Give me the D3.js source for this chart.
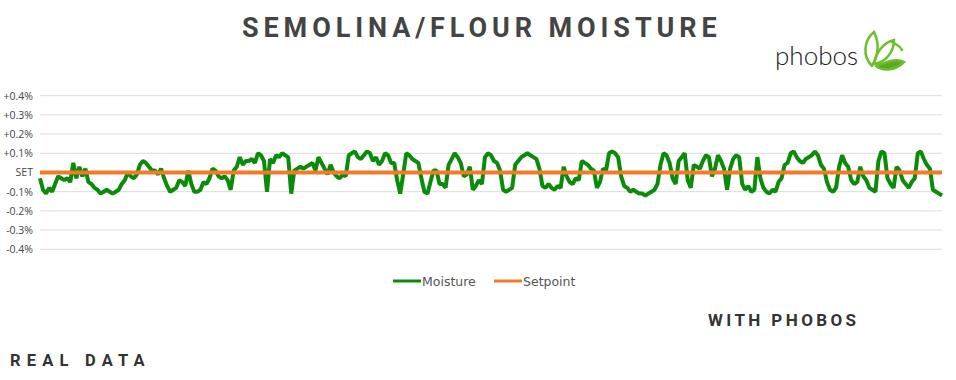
<!DOCTYPE html>
<html>
<head>
<meta charset="utf-8">
<script src="https://cdn.jsdelivr.net/npm/d3@7"></script>
<style>
  body { margin: 0; background: #fff; }
  svg { display: block; font-family: Roboto, "Open Sans", sans-serif; }
</style>
</head>
<body>
<div id="chart"></div>
<script>
// moisture deviation from setpoint, in hundredths of a percent, one reading per sample
const moisture = [
  -3,-9,-11,-8,-10,-6,-2,-3,-4,-3,-5,5,-3,3,-2,2,-5,-6,-8,-9,-11,-10,-9,-10,-11,-10,-9,-6,-4,0,
  -2,-3,-1,4,6,5,3,1,1,-1,2,-3,-7,-10,-9,-8,-4,-5,-7,1,-6,-10,-10,-9,-5,-6,-3,2,1,-2,
  -3,-2,-4,-9,1,3,8,4,6,6,7,5,10,
  9,6,-10,7,5,9,8,10,9,8,-11,1,2,3,2,3,4,5,1,8,5,2,-1,4,0,-2,-3,-1,-2,9,
  10,11,8,7,9,11,10,6,8,4,6,10,9,5,5,-4,-11,-1,10,9,7,6,5,-3,-10,-11,-5,1,1,-6,
  -6,-8,4,7,10,8,5,-2,-1,3,-9,-7,-4,
  -6,8,10,9,6,5,1,-9,-10,-9,-8,4,6,8,9,10,9,8,7,2,-7,-8,-6,-8,-9,-7,-8,3,-2,-5,
  -6,-3,-4,6,5,4,2,1,-8,-5,2,1,10,11,10,8,-2,-7,-8,-10,-9,-10,-11,-11,-12,-11,-10,-9,-6,4,
  10,9,5,-3,-6,6,8,10,-4,-8,4,3,2,
  6,9,8,-2,2,9,6,2,-9,2,7,9,8,-6,-9,-7,-10,-9,8,-3,-8,-10,-11,-9,-10,-5,-3,4,5,10,
  11,8,6,5,7,8,9,11,9,4,2,-5,-9,-10,-8,3,9,5,3,-4,-6,-5,3,-2,-4,-8,-9,-10,6,11,
  10,-3,-6,-8,3,1,-4,-6,-8,-5,-3,10,11,7,4,2,-9,-10,-11,-12
];
const setpoint = 0;
const yTicks = [0.4, 0.3, 0.2, 0.1, 0, -0.1, -0.2, -0.3, -0.4];
const yTickLabels = ["+0.4%", "+0.3%", "+0.2%", "+0.1%", "SET", "-0.1%", "-0.2%", "-0.3%", "-0.4%"];
const seriesNames = ["Moisture", "Setpoint"];
const seriesColors = ["#0a8c0a", "#f47a2a"];

const W = 956, H = 380;
const plot = { left: 40, right: 942, top: 95.7, bottom: 249.3 };

const svg = d3.select("#chart").append("svg")
    .attr("width", W)
    .attr("height", H);

svg.append("rect").attr("width", W).attr("height", H).attr("fill", "#fff");

const x = d3.scaleLinear()
    .domain([0, moisture.length - 1])
    .range([plot.left, plot.right]);

const y = d3.scaleLinear()
    .domain([-0.4, 0.4])
    .range([plot.bottom, plot.top]);

// grid
svg.append("g")
    .selectAll("line")
    .data(yTicks)
    .join("line")
    .attr("x1", plot.left)
    .attr("x2", plot.right)
    .attr("y1", d => y(d))
    .attr("y2", d => y(d))
    .attr("stroke", "#dcdcdc")
    .attr("stroke-width", 1);

// y axis labels
const yAxis = svg.append("g")
    .attr("transform", `translate(${plot.left - 4},0)`)
    .call(d3.axisLeft(y).tickValues(yTicks).tickSize(0).tickFormat((d, i) => yTickLabels[i]));
yAxis.select(".domain").remove();
yAxis.selectAll("text")
    .attr("fill", "#444")
    .style("font-family", "'Open Sans', sans-serif")
    .style("font-size", "10.5px");

// moisture series
const line = d3.line()
    .x((d, i) => x(i))
    .y(d => y(d / 100));

svg.append("path")
    .datum(moisture)
    .attr("d", line)
    .attr("fill", "none")
    .attr("stroke", seriesColors[0])
    .attr("stroke-width", 4)
    .attr("stroke-linejoin", "bevel");

// setpoint
svg.append("line")
    .attr("x1", plot.left)
    .attr("x2", plot.right)
    .attr("y1", y(setpoint))
    .attr("y2", y(setpoint))
    .attr("stroke", seriesColors[1])
    .attr("stroke-width", 4);

// legend
const legend = svg.append("g").attr("transform", "translate(393,281)");
const legendX = [0, 101];
seriesNames.forEach((name, i) => {
    const g = legend.append("g").attr("transform", `translate(${legendX[i]},0)`);
    g.append("line")
        .attr("x1", 0).attr("x2", 28)
        .attr("stroke", seriesColors[i])
        .attr("stroke-width", 3);
    g.append("text")
        .attr("x", 29)
        .attr("y", 4.5)
        .attr("fill", "#555")
        .style("font-family", "'DejaVu Sans', sans-serif")
        .style("font-size", "12.5px")
        .text(name);
});

// title
svg.append("text")
    .attr("x", 242)
    .attr("y", 37)
    .attr("fill", "#444")
    .style("font-size", "27px")
    .style("font-weight", "bold")
    .style("letter-spacing", "4.9px")
    .text("SEMOLINA/FLOUR MOISTURE");

svg.append("text")
    .attr("x", 708)
    .attr("y", 326)
    .attr("fill", "#333")
    .style("font-size", "17px")
    .style("font-weight", "bold")
    .style("letter-spacing", "3.4px")
    .text("WITH PHOBOS");

svg.append("text")
    .attr("x", 10)
    .attr("y", 366)
    .attr("fill", "#333")
    .style("font-size", "16.5px")
    .style("font-weight", "bold")
    .style("letter-spacing", "6.2px")
    .text("REAL DATA");

// logo
const logo = svg.append("g");
logo.append("text")
    .attr("x", 775)
    .attr("y", 65)
    .attr("fill", "#1a1a1a")
    .style("font-family", "Lato, sans-serif")
    .style("font-weight", "300")
    .style("font-size", "26px")
    .text("phobos");
const leaf = logo.append("g").attr("transform", "translate(862,30)")
    .attr("fill", "none").attr("stroke", "#6cbf2a").attr("stroke-width", 2.5).attr("stroke-linecap", "round");
leaf.append("path").attr("d", "M10,36 C0,26 2,10 12,2 C17,12 17,24 10,36");
leaf.append("path").attr("d", "M12,34 C14,22 22,12 32,10 C32,22 24,32 12,34");
leaf.append("path").attr("d", "M14,36 C24,32 34,28 42,32 C34,40 22,42 14,36").attr("fill", "#5aa820");
leaf.append("path").attr("d", "M30,12 C34,14 38,16 40,20");
</script>
</body>
</html>
